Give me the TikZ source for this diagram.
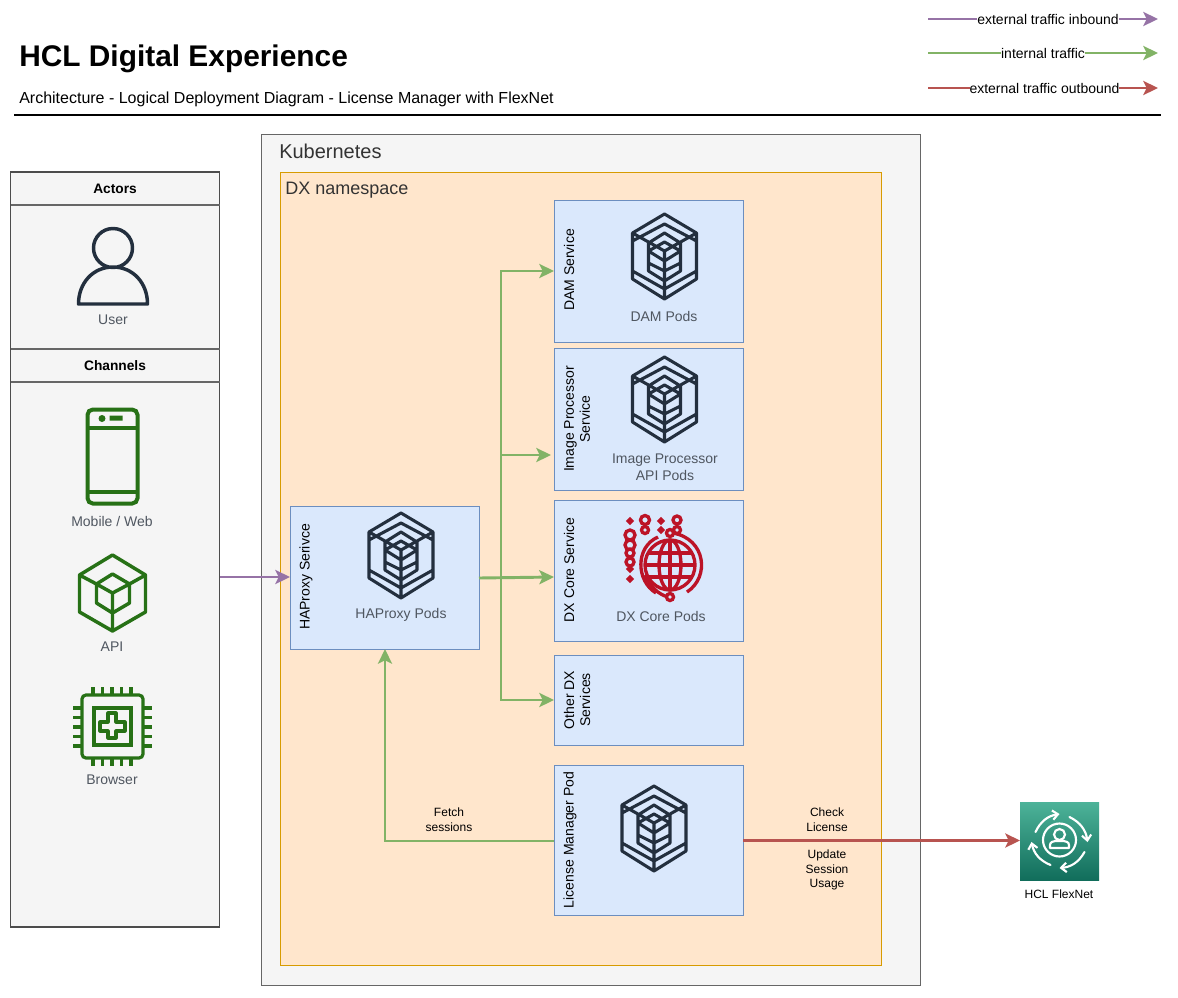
\documentclass[tikz,border=0pt]{standalone}
\usepackage{fontspec}
\setmainfont{Liberation Sans}
\usetikzlibrary{arrows.meta}
\definecolor{podnavy}{HTML}{232F3E}
\definecolor{chanGreen}{HTML}{277116}
\definecolor{coreRed}{HTML}{BC1327}
\definecolor{flowIn}{HTML}{9673A6}
\definecolor{flowInt}{HTML}{82B366}
\definecolor{flowOut}{HTML}{B85450}
\definecolor{iconText}{HTML}{4F5660}
\definecolor{svcBlue}{HTML}{DAE8FC}
\definecolor{svcLine}{HTML}{6C8EBF}
\definecolor{nsFill}{HTML}{FFE6CC}
\definecolor{nsLine}{HTML}{D79B00}
\definecolor{paneFill}{HTML}{F5F5F5}
\definecolor{paneLine}{HTML}{666666}
\definecolor{flexTop}{HTML}{4DB399}
\definecolor{flexBot}{HTML}{116D5B}
\tikzset{
  outerbox/.style={draw=#1, anchor=north west, inner sep=0pt, outer sep=0pt},
  servicebox/.style={draw=svcLine, fill=svcBlue, anchor=north west, inner sep=0pt, outer sep=0pt, minimum width=141.75pt},
  sidelabel/.style={rotate=90, align=center, font=\fontsize{10.5}{12}\selectfont},
  podlabel/.style={align=center, text=iconText, font=\fontsize{10.5}{12.8}\selectfont},
  iconlabel/.style={text=iconText, font=\fontsize{10.5}{12}\selectfont},
  flowlabel/.style={align=center, font=\fontsize{9}{11}\selectfont},
  legendlabel/.style={fill=white, inner sep=0pt, font=\fontsize{10.5}{12}\selectfont},
  headlabel/.style={font=\bfseries\fontsize{10.3}{12}\selectfont},
  flow/.style={draw=#1, line width=2.2pt, -{Stealth[length=11pt,width=10.5pt,inset=2.5pt]}},
  podicon/.pic={
    \draw[podnavy, line width=2.3pt, line join=round]
      (0,-43) -- (32,-24) -- (32,22) -- (0,42) -- (-32,22) -- (-32,-24) -- cycle
      (-32,-24) -- (0,-6) -- (32,-24) (0,-6) -- (0,42)
      (-32,-16) -- (0,-33) -- (32,-16)
      (-16,-14) -- (0,-24) -- (16,-14)
      (-16,-6) -- (0,-15) -- (16,-6)
      (-16,-14) -- (-16,14) -- (0,24) -- (16,14) -- (16,-14)
      (-16,-6) -- (0,4) -- (16,-6)
      (-16,6) -- (0,14) -- (16,6)
      (-32,14) -- (0,32) -- (32,14);
  },
  usericon/.pic={
    \draw[podnavy, line width=2.6pt, line join=round]
      (0,-18) circle (19.5)
      (-34.5,38) .. controls (-34.5,17) and (-20,1) .. (0,1)
      .. controls (20,1) and (34.5,17) .. (34.5,38) -- cycle;
  },
  mobileicon/.pic={
    \draw[chanGreen, line width=3pt, rounded corners=4pt]
      (-25,-47) rectangle (25,47);
    \draw[chanGreen, line width=3pt] (-25,-29) -- (25,-29) (-25,35) -- (25,35);
    \fill[chanGreen] (-10.5,-38) circle (3.5) (-3,-41) rectangle (10,-36);
  },
  apiicon/.pic={
    \draw[chanGreen, line width=2.6pt, line join=round]
      (0,-38) -- (33,-18) -- (33,19) -- (0,38) -- (-33,19) -- (-33,-18) -- cycle
      (-33,-18) -- (-16,-9) (33,-18) -- (17,-9)
      (0,-19) -- (17,-9) -- (17,10) -- (0,20) -- (-16,10) -- (-16,-9) -- cycle
      (-16,-9) -- (0,0) -- (17,-9) (0,0) -- (0,38);
  },
  chipicon/.pic={
    \draw[chanGreen, line width=2.4pt, rounded corners=3pt] (-30,-32) rectangle (31,31);
    \draw[chanGreen, line width=2.6pt] (-18,-19) rectangle (19,18);
    \draw[chanGreen, line width=2.4pt, line join=round]
      (-4,-14) -- (4,-14) -- (4,-5) -- (13,-5) -- (13,4) -- (4,4) -- (4,11)
      -- (-4,11) -- (-4,4) -- (-12,4) -- (-12,-5) -- (-4,-5) -- cycle;
    \foreach \t in {-19,-9.5,0,9.5,19} {
      \draw[chanGreen, line width=2.3pt] (\t,-40) -- (\t,-32) (\t,31) -- (\t,39);
      \draw[chanGreen, line width=2.3pt] (-39,\t) -- (-30,\t) (31,\t) -- (40,\t);
    }
  },
  globeicon/.pic={
    \begin{scope}[coreRed, line width=2.5pt]
    \draw (0,0) ellipse (25 and 25);
    \draw (0,0) ellipse (11 and 25);
    \draw (0,-25) -- (0,25) (-25,0) -- (25,0);
    \draw (-22,-12) -- (22,-12) (-22,12) -- (22,12);
    \draw (-12,-28) .. controls (-35,-18) and (-34,16) .. (-14,28);
    \draw (3,-32) .. controls (36,-26) and (40,12) .. (17,27);
    \draw (-25,10) .. controls (-18,26) and (-6,32) .. (0,32);
    \foreach \a/\b/\r in {-40/-44/1.8, -25/-45/4.5, -25/-35/3.5, -9/-44/1.8, -9/-35/1.8, 7/-45/4, 7/-35/3.5,
                       0/-32/3.5, -40/-30/5, -40/-20/5, -40/-12/4, -40/-3/4, -40/4/1.8, -40/14/1.8, 0/32/3.5}
      \draw[fill=svcBlue] (\a,\b) circle (\r);
    \end{scope}
  },
  flexicon/.pic={
    \begin{scope}[white, line width=1.6pt, line cap=round]
    \draw (0,0) circle (16.5);
    \draw (0,-5.5) circle (5.5);
    \draw[line join=round] (-9.5,8) -- (-9.5,5) .. controls (-9.5,2) and (-6,1) .. (-4,1)
      -- (4,1) .. controls (6,1) and (9.5,2) .. (9.5,5) -- (9.5,8) -- cycle;
    \draw[-{Straight Barb[length=4pt,width=7pt]}] (-24,-8) to[bend left=28] (0,-26);
    \draw[-{Straight Barb[length=4pt,width=7pt]}] (10,-23) to[bend left=28] (28,2);
    \draw[-{Straight Barb[length=4pt,width=7pt]}] (25,12) to[bend left=28] (0,28);
    \draw[-{Straight Barb[length=4pt,width=7pt]}] (-9,25) to[bend left=28] (-28,2);
    \end{scope}
  }
}
\begin{document}
\begin{tikzpicture}[x=0.75pt, y=-0.75pt]
    \useasboundingbox (0,0) rectangle (1178,997);
    \fill[white] (0,0) rectangle (1178,997);

    % title
    \node[anchor=west, inner sep=0pt, font=\bfseries\fontsize{22.4}{26}\selectfont] (title) at (19,59) {HCL Digital Experience};
    \node[anchor=west, inner sep=0pt, font=\fontsize{12}{14}\selectfont] (subtitle) at (19,99) {Architecture - Logical Deployment Diagram - License Manager with FlexNet};
    \coordinate (ruleL) at (14,115);
    \coordinate (ruleR) at (1161,115);
    \draw[line width=1.3pt] (ruleL) -- (ruleR);

    % legend
    \coordinate (inA) at (928,19);
    \coordinate (inB) at (1158,19);
    \coordinate (intA) at (928,53);
    \coordinate (intB) at (1158,53);
    \coordinate (outA) at (928,88);
    \coordinate (outB) at (1158,88);
    \draw[flow=flowIn] (inA) -- node[legendlabel, xshift=3.75pt] (inText) {external traffic inbound} (inB);
    \draw[flow=flowInt] (intA) -- node[legendlabel] (intText) {internal traffic} (intB);
    \draw[flow=flowOut] (outA) -- node[legendlabel, xshift=1.1pt] (outText) {external traffic outbound} (outB);

    % kubernetes and namespace
    \node[outerbox=paneLine, fill=paneFill, minimum width=494.25pt, minimum height=638.25pt] (k8s) at (261,134.5) {};
    \node[anchor=west, inner sep=0pt, text=black!80, font=\fontsize{15}{17}\selectfont] (k8sText) at (279,151) {Kubernetes};
    \node[outerbox=nsLine, fill=nsFill, minimum width=450.75pt, minimum height=594.75pt] (dxns) at (280.5,172) {};
    \node[anchor=west, inner sep=0pt, text=black!80, font=\fontsize{13.5}{16}\selectfont] (dxnsText) at (285,190) {DX namespace};

    % actors and channels
    \node[outerbox=black!70, fill=paneFill, line width=0.9pt, minimum width=156.75pt, minimum height=566.25pt] (actors) at (10.5,172) {};
    \coordinate (rowA1) at (10.5,205);
    \coordinate (rowA2) at (220,205);
    \coordinate (rowB1) at (10.5,349);
    \coordinate (rowB2) at (220,349);
    \coordinate (rowC1) at (10.5,382);
    \coordinate (rowC2) at (220,382);
    \draw[paneLine, line width=0.9pt] (rowA1) -- (rowA2);
    \draw[paneLine, line width=0.9pt] (rowB1) -- (rowB2);
    \draw[paneLine, line width=0.9pt] (rowC1) -- (rowC2);
    \node[headlabel] (actorsText) at (115,189) {Actors};
    \node[headlabel] (channelsText) at (115,366) {Channels};
    \pic at (113,266) {usericon};
    \node[iconlabel] (userText) at (113,320) {User};
    \pic at (112.5,456.5) {mobileicon};
    \node[iconlabel] (mobileText) at (112,521) {Mobile / Web};
    \pic at (112.5,593) {apiicon};
    \node[iconlabel] (apiText) at (112,647) {API};
    \pic at (112,727) {chipicon};
    \node[iconlabel] (browserText) at (112,780) {Browser};

    % services
    \node[servicebox, minimum height=107.25pt] (haproxy) at (290,506) {};
    \node[servicebox, minimum height=106.5pt] (dam) at (554,200) {};
    \node[servicebox, minimum height=106.5pt] (imgproc) at (554,348) {};
    \node[servicebox, minimum height=105.75pt] (dxcore) at (554,500) {};
    \node[servicebox, minimum height=67.5pt] (other) at (554,655) {};
    \node[servicebox, minimum height=112.5pt] (licmgr) at (554,765) {};

    \node[sidelabel] (haproxyText) at (306,577) {HAProxy Serivce};
    \node[sidelabel] (damText) at (569,270) {DAM Service};
    \node[sidelabel] (imgprocText) at (577,419) {Image Processor\\Service};
    \node[sidelabel] (dxcoreText) at (569,570) {DX Core Service};
    \node[sidelabel] (otherText) at (577,700) {Other DX\\Services};
    \node[sidelabel] (licmgrText) at (570,840) {License Manager Pod};

    \pic at (401,556) {podicon};
    \pic at (664.5,257) {podicon};
    \pic at (664.5,400) {podicon};
    \pic at (654,829) {podicon};
    \pic at (670,565) {globeicon};
    \node[podlabel] (haproxyPods) at (401,615) {HAProxy Pods};
    \node[podlabel] (damPods) at (664,316) {DAM Pods};
    \node[podlabel] (imgprocPods) at (665,467) {Image Processor\\API Pods};
    \node[podlabel] (dxcorePods) at (661,616) {DX Core Pods};

    % flexnet
    \node[anchor=north west, inner sep=0pt, outer sep=0pt, minimum width=59.25pt, minimum height=58.5pt, top color=flexTop, bottom color=flexBot] (flexnet) at (1020,802) {};
    \pic at (1059.5,840) {flexicon};
    \node[flowlabel] (flexnetText) at (1059,894) {HCL FlexNet};

    % traffic
    \coordinate (chanOut) at (220,577);
    \coordinate (hapOut) at (479,578);
    \coordinate (hapIn) at (385,649);
    \coordinate (trunkTop) at (501,271);
    \coordinate (trunkImg) at (501,455);
    \coordinate (trunkBot) at (501,700);
    \coordinate (damIn) at (554,271);
    \coordinate (imgIn) at (551,455);
    \coordinate (coreIn) at (554,577);
    \coordinate (otherIn) at (554,700);
    \coordinate (licOut) at (554,841);
    \coordinate (licCorner) at (385,841);
    \coordinate (licEast) at (743,840.5);
    \coordinate (flexIn) at (1020,840.5);
    \draw[flow=flowIn] (chanOut) -- (haproxy.west |- chanOut);
    \draw[flow=flowInt] (hapOut) -- (coreIn);
    \draw[flow=flowInt] (trunkTop |- hapOut) -- (trunkTop) -- (damIn);
    \draw[flow=flowInt] (trunkImg) -- (imgIn);
    \draw[flow=flowInt] (trunkTop |- hapOut) -- (trunkBot) -- (otherIn);
    \draw[flow=flowInt] (licOut) -- (licCorner) -- (hapIn);
    \draw[flow=flowOut] (licEast) -- (flexIn);

    \node[flowlabel] (fetchText) at (449,820) {Fetch\\sessions};
    \node[flowlabel] (checkText) at (827,820) {Check\\License};
    \node[flowlabel] (updateText) at (827,870) {Update\\Session\\Usage};
\end{tikzpicture}
\end{document}
